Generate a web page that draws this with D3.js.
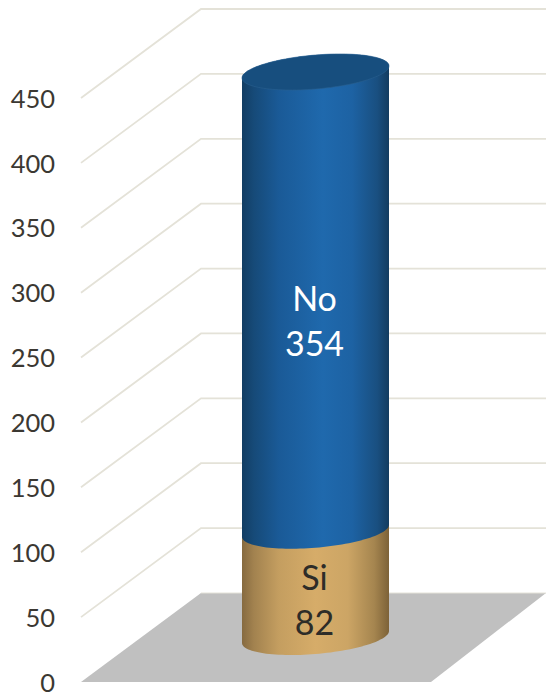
<!DOCTYPE html>
<html>
<head>
<meta charset="utf-8">
<script src="https://cdn.jsdelivr.net/npm/d3@7"></script>
<style>
html,body{margin:0;padding:0;background:#fff;}
svg{display:block;}
text{font-family:Lato,"Open Sans",sans-serif;}
</style>
</head>
<body>
<svg id="chart" width="546" height="693"></svg>
<script>
const categories = ["Si", "No"];
const values = [82, 354];
const tickValues = [0, 50, 100, 150, 200, 250, 300, 350, 400, 450];

const W = 546, H = 693;
const svg = d3.select("#chart").attr("viewBox", [0, 0, W, H]);

// perspective box
const yFront = d3.scaleLinear().domain([0, 450]).range([682, 98]);
const depthX = 120, depthY = 89;
const xLeft = 81, xBackRight = 546, xFrontRight = 431;

// cylinder scale
const yCyl = d3.scaleLinear().domain([0, 436]).range([637, 72]);
const xCyl = d3.scaleLinear().domain([-1, 1]).range([242, 389]);
const tilt = 6, minor = 17;

const defs = svg.append("defs");
function grad(id, stops) {
  const g = defs.append("linearGradient").attr("id", id)
    .attr("x1", "0%").attr("x2", "100%").attr("y1", "0%").attr("y2", "0%");
  stops.forEach(([o, c]) => g.append("stop").attr("offset", o).attr("stop-color", c));
}
grad("gBlue", [[0, "#123d63"], [0.08, "#164a78"], [0.25, "#1a5a97"], [0.55, "#1f69ad"], [0.75, "#1d62a3"], [0.92, "#194f80"], [1, "#133c60"]]);
grad("gTan", [[0, "#866a40"], [0.08, "#a2824f"], [0.25, "#c49e60"], [0.5, "#d6ac69"], [0.72, "#cca565"], [0.9, "#a5854f"], [1, "#7d6238"]]);

// floor
const floorLine = d3.line();
svg.append("path")
  .attr("d", floorLine([
    [xLeft, yFront(0)],
    [xLeft + depthX, yFront(0) - depthY],
    [xBackRight, yFront(0) - depthY],
    [xFrontRight, yFront(0)]
  ]) + "Z")
  .attr("fill", "#c0c0c0");

// gridlines
svg.append("g").selectAll("path").data(tickValues.filter(d => d > 0)).join("path")
  .attr("d", d => floorLine([
    [xLeft, yFront(d)],
    [xLeft + depthX, yFront(d) - depthY],
    [xBackRight, yFront(d) - depthY]
  ]))
  .attr("fill", "none")
  .attr("stroke", "#e4e2d8")
  .attr("stroke-width", 1.8);
svg.append("path")
  .attr("d", floorLine([[xLeft + depthX, yFront(0) - depthY], [xBackRight, yFront(0) - depthY]]))
  .attr("stroke", "#e4e2d8").attr("stroke-width", 1).attr("fill", "none");

// tick labels
svg.append("g").selectAll("text").data(tickValues).join("text")
  .attr("x", 55)
  .attr("y", d => yFront(d))
  .attr("dy", "0.38em")
  .attr("text-anchor", "end")
  .attr("font-size", 25.5)
  .attr("fill", "#3b3832")
  .text(d => d);

// elliptical section points
const ts = d3.range(0, 181, 3);
function lowerArc(cy) { // left to right along the front edge
  return ts.map(a => {
    const t = Math.PI - a * Math.PI / 180;
    return [xCyl(Math.cos(t)), cy - tilt * Math.cos(t) + minor * Math.sin(t)];
  });
}
function upperArc(cy) { // right to left along the back edge
  return ts.map(a => {
    const t = -a * Math.PI / 180;
    return [xCyl(Math.cos(t)), cy - tilt * Math.cos(t) + minor * Math.sin(t)];
  });
}

const stack = d3.stack().keys(categories)([Object.fromEntries(categories.map((c, i) => [c, values[i]]))]);
const line = d3.line();
const fills = { Si: "url(#gTan)", No: "url(#gBlue)" };
const labelFill = { Si: "#2d2c28", No: "#ffffff" };

const segs = stack.map(s => ({ key: s.key, y0: s[0][0], y1: s[0][1] }));
segs.forEach(s => {
  const bottom = lowerArc(yCyl(s.y0));
  const top = upperArc(yCyl(s.y1));
  svg.append("path")
    .attr("d", line(bottom.concat(top)) + "Z")
    .attr("fill", fills[s.key]);
});

// top cap
const topCy = yCyl(segs[1].y1);
svg.append("path")
  .attr("d", line(lowerArc(topCy).concat(upperArc(topCy))) + "Z")
  .attr("fill", "#174e7e")
  .attr("stroke", "#2a608f")
  .attr("stroke-width", 0.6);

// labels
const labelY = { Si: [578, 623], No: [299, 344] };
segs.forEach((s, i) => {
  const g = svg.append("g").attr("text-anchor", "middle")
    .attr("font-size", 34).attr("fill", labelFill[s.key]);
  g.append("text").attr("x", 314.5).attr("y", labelY[s.key][0]).attr("dy", "0.35em").text(s.key);
  g.append("text").attr("x", 314.5).attr("y", labelY[s.key][1]).attr("dy", "0.35em").text(values[i]);
});
</script>
</body>
</html>
